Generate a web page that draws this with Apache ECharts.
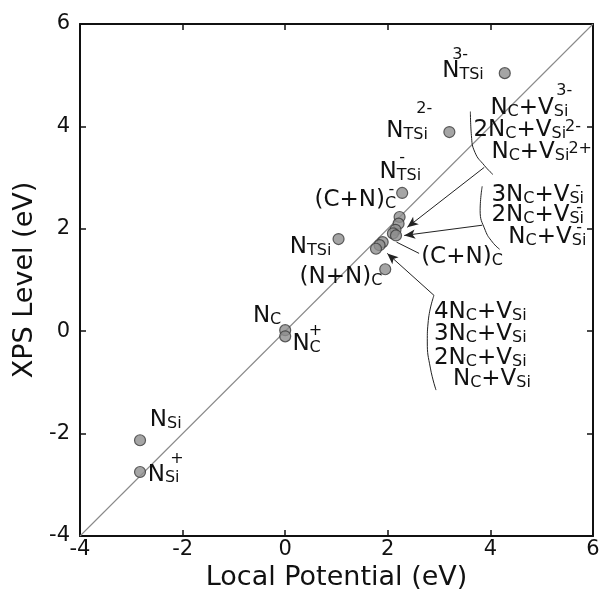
<!DOCTYPE html>
<html>
<head>
<meta charset="utf-8">
<script src="https://cdn.jsdelivr.net/npm/echarts@6/dist/echarts.min.js"></script>
<style>html,body{margin:0;padding:0;background:#fff;}#c{width:604px;height:597px;}</style>
</head>
<body>
<div id="c"></div>
<script>
// ---- data ----
const tickValues = [-4, -2, 0, 2, 4, 6];
const pointNames = ['N_TSi 3-', 'N_TSi 2-', 'N_TSi -', 'N_TSi', '(N+N)_C',
  'c1', 'c2', 'c3', 'c4', 'c5', 'c6', 'c7', 'c8',
  'N_C', 'N_C +', 'N_Si', 'N_Si +'];
const pointX = [4.28, 3.20, 2.28, 1.04, 1.95,
  2.23, 2.21, 2.15, 2.10, 2.16, 1.90, 1.84, 1.77,
  0.00, 0.00, -2.83, -2.83];
const pointY = [5.04, 3.89, 2.70, 1.80, 1.21,
  2.23, 2.10, 1.98, 1.91, 1.87, 1.74, 1.68, 1.61,
  0.02, -0.10, -2.13, -2.75];
const diagX = [-4, 6];
const diagY = [-4, 6];

// label annotations (anchor: left / bottom, data coords)
const labelText = [
  'N{s|TSi}', 'N{s|TSi}', 'N{s|TSi}', '(C+N){s|C}', 'N{s|TSi}', '(N+N){s|C}',
  'N{s|C}', 'N{s|C}', 'N{s|Si}', 'N{s|Si}',
  'N{s|C}+V{s|Si}', '2N{s|C}+V{s|Si}', 'N{s|C}+V{s|Si}',
  '3N{s|C}+V{s|Si}', '2N{s|C}+V{s|Si}', 'N{s|C}+V{s|Si}',
  '(C+N){s|C}',
  '4N{s|C}+V{s|Si}', '3N{s|C}+V{s|Si}', '2N{s|C}+V{s|Si}', 'N{s|C}+V{s|Si}'];
const labelX = [3.06, 1.97, 1.84, 0.57, 0.09, 0.28,
  -0.63, 0.14, -2.64, -2.68,
  4.00, 3.67, 4.02,
  4.02, 4.02, 4.35,
  2.65,
  2.90, 2.90, 2.90, 3.27];
const labelY = [4.85, 3.68, 2.88, 2.33, 1.41, 0.83,
  0.07, -0.48, -1.96, -3.03,
  4.13, 3.70, 3.27,
  2.43, 2.04, 1.61,
  1.22,
  0.15, -0.28, -0.75, -1.16];

// superscripts (anchor: centre)
const supText = ['3-', '2-', '-', '-', '+', '+', '3-', '2-', '2+', '-', '-', '-'];
const supX = [3.41, 2.71, 2.28, 2.07, 0.59, -2.11, 5.44, 5.61, 5.75, 5.71, 5.73, 5.73];
const supY = [5.39, 4.35, 3.38, 2.77, 0.00, -2.50, 4.70, 4.00, 3.57, 2.84, 2.41, 2.02];

// leader lines / arrows [x1, y1, x2, y2, arrowhead]
const leaders = [
  [3.88, 3.20, 2.38, 2.03, 1],
  [3.84, 2.07, 2.32, 1.87, 1],
  [2.61, 1.52, 2.17, 1.74, 0],
  [2.90, 0.70, 1.99, 1.52, 1]
];
// bracket curves
const bracketA = [[3.61, 4.29], [3.63, 3.82], [3.70, 3.49], [3.88, 3.24], [4.05, 3.06]];
const bracketB = [[3.84, 2.83], [3.80, 2.36], [3.90, 1.97], [4.04, 1.74], [4.18, 1.60]];
const bracketC = [[2.90, 0.70], [2.79, 0.21], [2.77, -0.21], [2.83, -0.72], [2.94, -1.15]];

// ---- chart ----
const FONT = 'DejaVu Sans';
const TXT = '#111';
const chart = echarts.init(document.getElementById('c'), null, {renderer: 'canvas'});

const richStyles = {
  n: {fontSize: 23, fontFamily: FONT, color: TXT, lineHeight: 24, verticalAlign: 'bottom', textBorderWidth: 0},
  s: {fontSize: 16, fontFamily: FONT, color: TXT, lineHeight: 23, verticalAlign: 'bottom', textBorderWidth: 0}
};
function richify(t) {
  return t.split(/(\{s\|[^}]*\})/).filter(x => x.length).map(x => x.startsWith('{s|') ? x : '{n|' + x + '}').join('');
}

const axisCommon = {
  type: 'value', min: -4, max: 6, interval: 2,
  splitLine: {show: false},
  axisLine: {show: true, onZero: false, lineStyle: {color: '#111', width: 2}},
  axisTick: {show: true, inside: true, length: 6, lineStyle: {color: '#111', width: 1.5}}
};

const option = {
  animation: false,
  backgroundColor: '#fff',
  grid: {left: 80, right: 11, top: 24, bottom: 61, containLabel: false},
  xAxis: [
    Object.assign({}, axisCommon, {
      position: 'bottom',
      axisLabel: {fontSize: 21, fontFamily: FONT, color: TXT, margin: 3},
      name: 'Local Potential (eV)', nameLocation: 'middle', nameGap: 14,
      nameTextStyle: {fontSize: 27, fontFamily: FONT, color: TXT, verticalAlign: 'top'}
    }),
    Object.assign({}, axisCommon, {position: 'top', axisLabel: {show: false}})
  ],
  yAxis: [
    Object.assign({}, axisCommon, {
      position: 'left',
      axisLabel: {fontSize: 21, fontFamily: FONT, color: TXT, margin: 10},
      name: 'XPS Level (eV)', nameLocation: 'middle', nameGap: 40,
      nameTextStyle: {fontSize: 27, fontFamily: FONT, color: TXT}
    }),
    Object.assign({}, axisCommon, {position: 'right', axisLabel: {show: false}})
  ],
  series: [
    {
      type: 'line', silent: true, z: 1,
      data: diagX.map((x, i) => [x, diagY[i]]),
      showSymbol: false, symbol: 'none',
      lineStyle: {color: '#8a8a8a', width: 1.1}
    },
    {
      type: 'line', silent: true, z: 2, smooth: 0.5, symbol: 'none',
      data: bracketA, lineStyle: {color: '#222', width: 1}
    },
    {
      type: 'line', silent: true, z: 2, smooth: 0.5, symbol: 'none',
      data: bracketB, lineStyle: {color: '#222', width: 1}
    },
    {
      type: 'line', silent: true, z: 2, smooth: 0.5, symbol: 'none',
      data: bracketC, lineStyle: {color: '#222', width: 1},
      markLine: {
        silent: true, animation: false,
        label: {show: false},
        lineStyle: {color: '#222', width: 1, type: 'solid'},
        data: leaders.map(l => [
          {coord: [l[0], l[1]], symbol: 'none'},
          {coord: [l[2], l[3]], symbol: l[4] ? 'arrow' : 'none', symbolSize: [7, 11]}
        ])
      }
    },
    {
      type: 'scatter', z: 5, silent: true,
      symbol: 'circle', symbolSize: 11,
      itemStyle: {color: '#8e8e8e', borderColor: '#3a3a3a', borderWidth: 1.2},
      data: pointNames.map((n, i) => ({name: n, value: [pointX[i], pointY[i]]}))
    },
    {
      type: 'scatter', z: 6, silent: true, symbolSize: 0,
      itemStyle: {color: '#fff', opacity: 0},
      label: {
        show: true, position: [0, 0], align: 'left', verticalAlign: 'bottom',
        color: TXT, textBorderWidth: 0, opacity: 1,
        formatter: p => richify(p.name), rich: richStyles
      },
      data: labelText.map((t, i) => ({name: t, value: [labelX[i], labelY[i]]}))
    },
    {
      type: 'scatter', z: 6, silent: true, symbolSize: 0,
      itemStyle: {color: '#fff', opacity: 0},
      label: {
        show: true, position: [0, 0], align: 'center', verticalAlign: 'middle',
        textBorderWidth: 0, opacity: 1,
        formatter: p => p.name, fontSize: 16, fontFamily: FONT, color: TXT
      },
      data: supText.map((t, i) => ({name: t, value: [supX[i], supY[i]]}))
    }
  ]
};
chart.setOption(option);
</script>
</body>
</html>
